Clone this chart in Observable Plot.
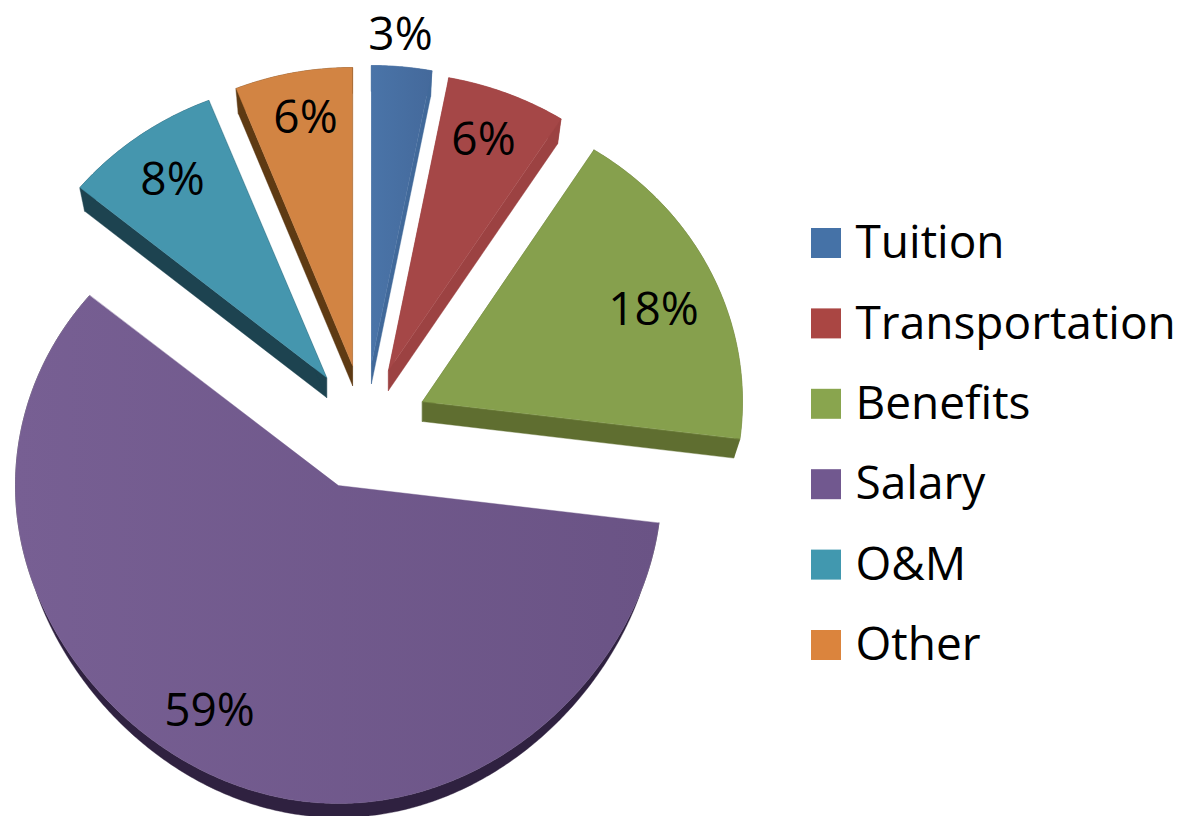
<!DOCTYPE html>
<html>
<head>
<meta charset="utf-8">
<script src="https://cdn.jsdelivr.net/npm/d3@7"></script>
<script src="https://cdn.jsdelivr.net/npm/@observablehq/plot@0.6"></script>
<style>
html,body{margin:0;padding:0;background:#fff}
svg{display:block}
</style>
</head>
<body>
<div id="chart"></div>
<script>
// Data
const categories = ["Tuition","Transportation","Benefits","Salary","O&M","Other"];
const shares = [3,6,18,59,8,6];
const faceColors = ["url(#faceTuition)","#a54747","#86a04d","url(#faceSalary)","#4596ae","#d28443"];
const sideColors = ["#41699a","#9c4242","#5f6e30","#2f2140","#1d4350","#5e3a13"];
const swatchColors = ["#4572a7","#aa4643","#89a54e","#71588f","#4198af","#db843d"];

// Layout of the exploded slices (screen units of the x/y scales)
const apexX = [371,388,422,338,326,352];
const apexY = [363,370,401,485,377,365];
const radiiX = [322,322,320,323,320,316];
const depths = [20,20,20,14,20,20];
const labelX = [400,483,653,209,172,305];
const labelY = [35,140,310,711,180,118];
const W = 1186, H = 816, RY = 298, SHRINK = 0.98;

const deg = Math.PI/180;
const point = (i,a,lower=false)=>{
  const c = Math.cos(a*deg), s = Math.sin(a*deg);
  const rx = radiiX[i];
  const ry = (c<0 && i===3) ? RY + 20*c*c : RY;
  if (i===3) { // the large slice: its rim tapers off towards the sides
    const t = Math.max(0,Math.min(1,(-c-0.35)/0.65));
    return [apexX[i]+rx*s, apexY[i]-ry*c+(lower?depths[i]*Math.pow(t,0.7):0)];
  }
  const k = lower?SHRINK:1;
  return [apexX[i]+rx*s*k, apexY[i]-ry*c*k+(lower?depths[i]:0)];
};
let cum = 0;
const slices = shares.map((v,i)=>{const a0=cum*3.6; cum+=v; return {i,a0,a1:cum*3.6};});
const poly = [];
const add = (key,fill,pts)=>pts.forEach(([x,y])=>poly.push({key,fill,x,y}));
// side walls first, faces on top
for (const {i,a0,a1} of slices){
  const d = depths[i], col = sideColors[i];
  const ang = d3.range(a0,a1,0.5).concat([a1]);
  const A = [apexX[i],apexY[i]];
  if (i!==3){
    const low = [A[0],A[1]+d];
    add("s0"+i,col,[A,point(i,a0),point(i,a0,true),low]);
    add("s1"+i,col,[A,point(i,a1),point(i,a1,true),low]);
  }
  add("s2"+i,col,[...ang.map(a=>point(i,a)),...ang.slice().reverse().map(a=>point(i,a,true))]);
}
for (const {i,a0,a1} of slices){
  const ang = d3.range(a0,a1,0.5).concat([a1]);
  add("f"+i,faceColors[i],[[apexX[i],apexY[i]],...ang.map(a=>point(i,a))]);
}
const labels = shares.map((v,i)=>({t:v+"%",x:labelX[i],y:labelY[i]}));
const legendRows = categories.map((c,i)=>({c,i,color:swatchColors[i],y:243+i*80.4}));

const font = "'Open Sans', Lato, sans-serif";
const chart = Plot.plot({
  width:W,height:H,margin:0,
  x:{domain:[0,W],range:[0,W],axis:null},
  y:{domain:[0,H],range:[0,H],axis:null},
  color:{type:"identity"},
  style:{background:"#fff",fontFamily:font,fontVariantLigatures:"none"},
  marks:[
    Plot.line(poly,{x:"x",y:"y",z:"key",fill:"fill",stroke:"fill",strokeWidth:0.4,curve:"linear-closed"}),
    Plot.text(labels,{x:"x",y:"y",text:"t",fontSize:46,fill:"#000",textAnchor:"middle",lineAnchor:"middle"}),
    Plot.rect(legendRows,{x1:()=>811,x2:()=>841,y1:d=>d.y-15,y2:d=>d.y+15,fill:"color",inset:0}),
    Plot.text(legendRows,{x:()=>855,y:"y",text:"c",fontSize:46,fill:"#000",textAnchor:"start",lineAnchor:"middle"})
  ]
});
const defs = d3.select(chart).insert("defs",":first-child");
const grad = (id,x1,x2,c1,c2)=>{
  const g = defs.append("linearGradient").attr("id",id).attr("gradientUnits","userSpaceOnUse")
    .attr("x1",x1).attr("y1",0).attr("x2",x2).attr("y2",0);
  g.append("stop").attr("offset",0).attr("stop-color",c1);
  g.append("stop").attr("offset",1).attr("stop-color",c2);
};
grad("faceSalary",15,660,"#775f93","#6a5385");
grad("faceTuition",371,432,"#4a74a8","#44699b");
document.getElementById("chart").appendChild(chart);
</script>
</body>
</html>
